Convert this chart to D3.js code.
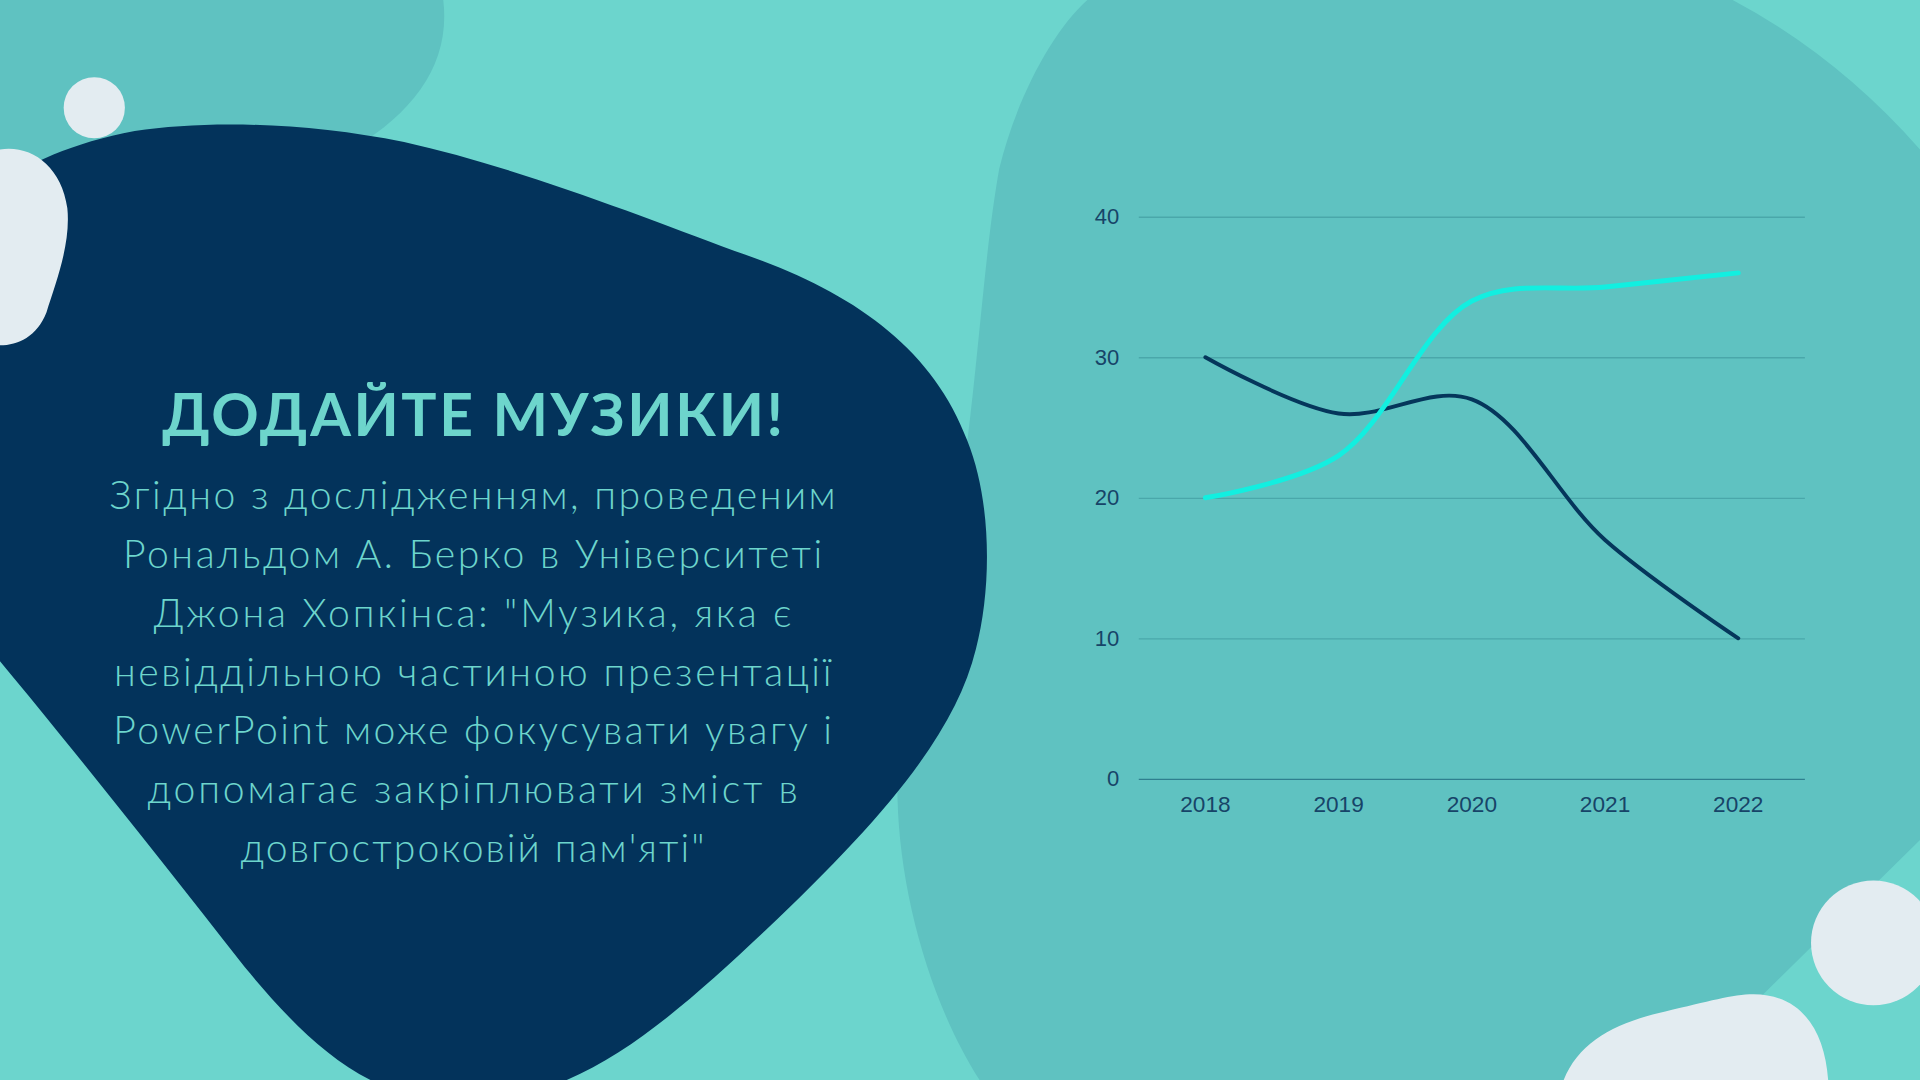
<!DOCTYPE html>
<html>
<head>
<meta charset="utf-8">
<script src="https://cdn.jsdelivr.net/npm/d3@7"></script>
<style>
  html, body { margin: 0; padding: 0; overflow: hidden; background: #6cd5cd; }
  svg { display: block; }
</style>
</head>
<body>
<div id="slide"></div>
<script>
// chart data
var years = ["2018", "2019", "2020", "2021", "2022"];
var darkSeries = [30, 26, 27, 17, 10];
var cyanSeries = [20, 23, 34, 35, 36];
var yTicks = [0, 10, 20, 30, 40];

var title = "ДОДАЙТЕ МУЗИКИ!";
var bodyLines = [
  "Згідно з дослідженням, проведеним",
  "Рональдом А. Берко в Університеті",
  "Джона Хопкінса: \"Музика, яка є",
  "невіддільною частиною презентації",
  "PowerPoint може фокусувати увагу і",
  "допомагає закріплювати зміст в",
  "довгостроковій пам'яті\""
];
var bodyWidths = [593, 571, 521, 586, 587, 531, 379];

var W = 1568, H = 882;

var svg = d3.select("#slide").append("svg")
  .attr("width", 1920)
  .attr("height", 1080)
  .attr("viewBox", "0 0 " + W + " " + H)
  .attr("preserveAspectRatio", "none");

// background
svg.append("rect").attr("width", W).attr("height", H).attr("fill", "#6cd5cd");

// big right blob
svg.append("path")
  .attr("fill", "#5fc2c1")
  .attr("d", "M888,0 L1415,0 Q1500,45 1568,122 L1568,686 L1440,812 L1440,882 L800,882 " +
    "C760,820 735,730 733,653 C730,560 775,470 790,360 C800,280 805,200 816,138 C830,80 860,25 888,0 Z");

// top-left blob
svg.append("path")
  .attr("fill", "#5fc2c1")
  .attr("d", "M0,0 L362,0 C368,50 340,90 290,120 C240,150 100,165 0,165 Z");

// navy blob
svg.append("path")
  .attr("fill", "#03335b")
  .attr("d", "M0,150 C20,135 60,116 110,107 C170,98 250,100 330,116 C420,136 520,175 600,205 " +
    "C690,235 760,280 790,360 C810,410 810,480 797,530 C780,600 720,670 625,760 " +
    "C540,840 470,900 378,900 C300,900 250,850 200,790 C130,700 50,600 0,540 Z");

// white shapes
svg.append("path")
  .attr("fill", "#e3ecf1")
  .attr("d", "M0,122 C25,118 50,135 55,170 C58,200 45,232 38,255 C30,275 15,282 0,282 Z");
svg.append("circle").attr("cx", 77).attr("cy", 88).attr("r", 25).attr("fill", "#e3ecf1");
svg.append("circle").attr("cx", 1530).attr("cy", 770).attr("r", 51).attr("fill", "#e3ecf1");
svg.append("path")
  .attr("fill", "#e3ecf1")
  .attr("d", "M1277,882 C1290,850 1320,835 1360,826 C1395,818 1415,812 1432,812 " +
    "C1470,812 1490,840 1493,882 Z");

// text
svg.append("text")
  .attr("x", 386).attr("y", 356)
  .attr("text-anchor", "middle")
  .attr("textLength", 507)
  .attr("lengthAdjust", "spacing")
  .style("font-family", "Lato, 'Open Sans', sans-serif")
  .style("font-weight", "bold")
  .style("font-size", "48px")
  .attr("fill", "#6dd5cc")
  .text(title);

svg.append("g").selectAll("text")
  .data(bodyLines)
  .join("text")
  .attr("x", 386)
  .attr("y", function(d, i) { return 416 + i * 48; })
  .attr("text-anchor", "middle")
  .attr("textLength", function(d, i) { return bodyWidths[i]; })
  .attr("lengthAdjust", "spacing")
  .style("font-family", "Lato, 'Open Sans', sans-serif")
  .style("font-weight", 300)
  .style("font-size", "32px")
  .attr("fill", "#6dd5cc")
  .text(function(d) { return d; });

// chart
var x = d3.scaleBand().domain(years).range([930, 1474]);
var y = d3.scaleLinear().domain([0, 40]).range([636, 177]);

var gy = svg.append("g")
  .attr("transform", "translate(930,0)")
  .call(d3.axisLeft(y).tickValues(yTicks).tickSize(-544).tickPadding(16));
gy.select(".domain").remove();
gy.selectAll(".tick line")
  .attr("stroke", function(d) { return d === 0 ? "#2f7f8f" : "#4aa7aa"; })
  .attr("stroke-width", 1.2);
gy.selectAll(".tick text")
  .attr("fill", "#174468")
  .style("font-family", "'Liberation Sans', Arial, sans-serif")
  .style("font-size", "18px");

var gx = svg.append("g")
  .attr("transform", "translate(0,636)")
  .call(d3.axisBottom(x).tickSize(0).tickPadding(14));
gx.select(".domain").remove();
gx.selectAll(".tick text")
  .attr("fill", "#174468")
  .style("font-family", "'Liberation Sans', Arial, sans-serif")
  .style("font-size", "18.5px");

var line = d3.line()
  .x(function(d, i) { return x(years[i]) + x.bandwidth() / 2; })
  .y(function(d) { return y(d); })
  .curve(d3.curveCatmullRom.alpha(0.5));

svg.append("path")
  .datum(darkSeries)
  .attr("fill", "none")
  .attr("stroke", "#05365b")
  .attr("stroke-width", 3.2)
  .attr("stroke-linecap", "round")
  .attr("d", line);

svg.append("path")
  .datum(cyanSeries)
  .attr("fill", "none")
  .attr("stroke", "#12efe0")
  .attr("stroke-width", 4)
  .attr("stroke-linecap", "round")
  .attr("d", line);
</script>
</body>
</html>
